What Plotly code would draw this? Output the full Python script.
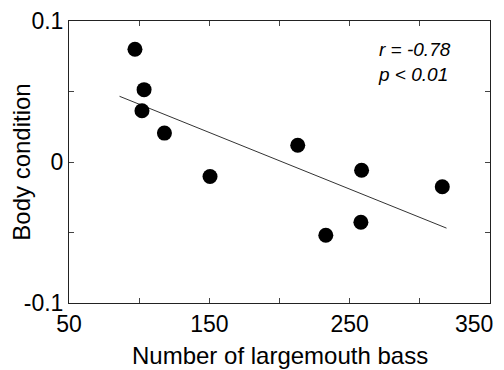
import plotly.graph_objects as go

bass_count = [97, 103.5, 102, 118, 150.5, 213, 258.5, 316, 258, 233]
body_condition = [0.080, 0.0513, 0.0364, 0.0205, -0.0103, 0.0119, -0.0059, -0.0176, -0.0427, -0.052]
fit_x = [86, 319]
fit_y = [0.0466, -0.0469]

x_ticks = [50, 100, 150, 200, 250, 300, 350]
x_labels = ["50", "", "150", "", "250", "", ""]
last_x_label = "350"
y_ticks = [-0.1, -0.05, 0, 0.05, 0.1]
y_labels = ["-0.1", "", "0", "", "0.1"]
x_title = "Number of largemouth bass"
y_title = "Body condition"

fig = go.Figure()
fig.add_trace(go.Scatter(x=fit_x, y=fit_y, mode="lines",
                         line=dict(color="#333333", width=1), showlegend=False))
fig.add_trace(go.Scatter(x=bass_count, y=body_condition, mode="markers",
                         marker=dict(color="black", size=15), showlegend=False))

axis_common = dict(showgrid=False, zeroline=False, showline=True, linecolor="#222222",
                   linewidth=1, mirror="ticks", ticks="inside", ticklen=5,
                   tickcolor="#444444", tickfont=dict(size=23, color="black"),
                   automargin=False)

fig.update_xaxes(range=[50, 350], tickvals=x_ticks, ticktext=x_labels, **axis_common)
fig.update_yaxes(range=[-0.1, 0.1], tickvals=y_ticks, ticktext=y_labels,
                 title=dict(text=y_title, font=dict(size=24, color="black"), standoff=6),
                 **axis_common)

# x-axis title placed as in the original
fig.add_annotation(x=0.5, y=0, xref="paper", yref="paper", xanchor="center", yanchor="middle",
                   yshift=-52, text=x_title, showarrow=False,
                   font=dict(size=24, color="black"))

# last x tick label, pulled inward as in the original
fig.add_annotation(x=x_ticks[-1], y=0, xref="x", yref="paper", xanchor="right", yanchor="middle",
                   xshift=5, yshift=-21, text=last_x_label, showarrow=False,
                   font=dict(size=23, color="black"))

fig.add_annotation(x=0.912, y=0.945, xref="paper", yref="paper", xanchor="right", yanchor="top",
                   text="<i>r = -0.78</i><br><i>p < 0.01</i>", showarrow=False, align="left",
                   font=dict(size=19, color="black"))

fig.update_layout(width=488, height=362, margin=dict(l=61, r=6, t=13, b=67),
                  plot_bgcolor="white", paper_bgcolor="white",
                  font=dict(family="Liberation Sans, Arial, sans-serif", color="black"))

fig.write_html("out.html")
